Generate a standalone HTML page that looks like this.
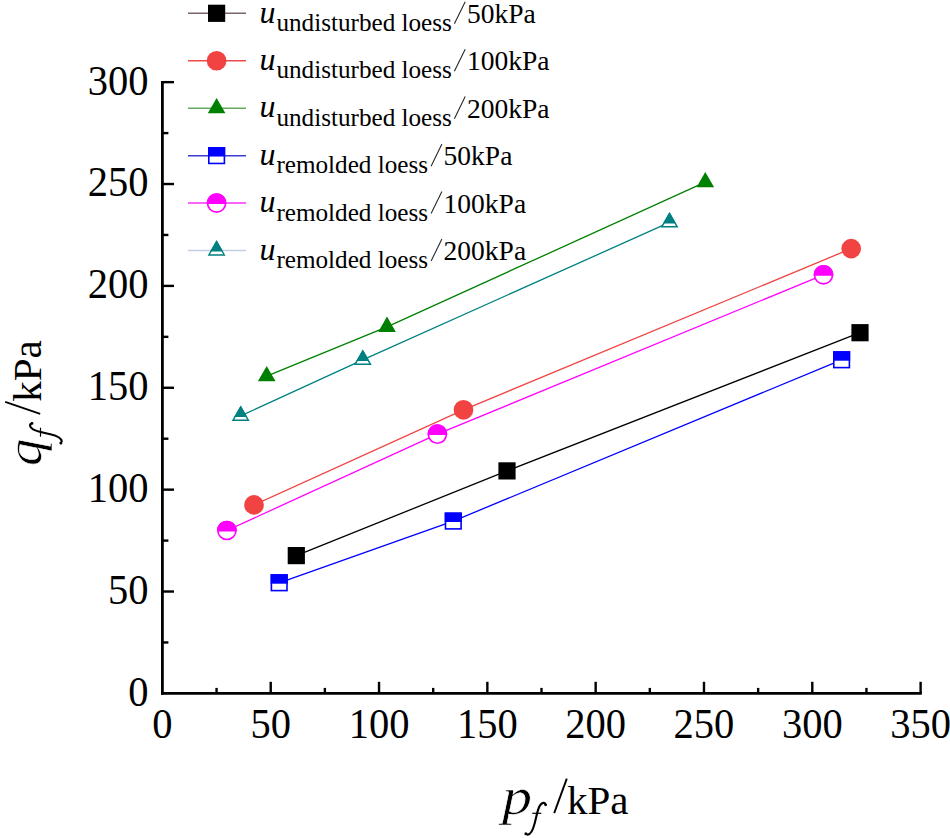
<!DOCTYPE html>
<html><head><meta charset="utf-8"><style>
html,body{margin:0;padding:0;background:#fff;}
body{width:950px;height:838px;overflow:hidden;}
svg{display:block;}
</style></head><body>
<svg width="950" height="838" viewBox="0 0 950 838">
<rect width="950" height="838" fill="#fff"/>
<g stroke="#000" fill="none">
<line x1="162.40" y1="80.95" x2="162.40" y2="694.80" stroke-width="2.8"/>
<line x1="161.00" y1="693.40" x2="921.81" y2="693.40" stroke-width="2.9"/>
<line x1="162.40" y1="642.46" x2="168.40" y2="642.46" stroke-width="2.4"/>
<line x1="162.40" y1="591.52" x2="174.00" y2="591.52" stroke-width="2.4"/>
<line x1="162.40" y1="540.59" x2="168.40" y2="540.59" stroke-width="2.4"/>
<line x1="162.40" y1="489.65" x2="174.00" y2="489.65" stroke-width="2.4"/>
<line x1="162.40" y1="438.71" x2="168.40" y2="438.71" stroke-width="2.4"/>
<line x1="162.40" y1="387.77" x2="174.00" y2="387.77" stroke-width="2.4"/>
<line x1="162.40" y1="336.84" x2="168.40" y2="336.84" stroke-width="2.4"/>
<line x1="162.40" y1="285.90" x2="174.00" y2="285.90" stroke-width="2.4"/>
<line x1="162.40" y1="234.96" x2="168.40" y2="234.96" stroke-width="2.4"/>
<line x1="162.40" y1="184.02" x2="174.00" y2="184.02" stroke-width="2.4"/>
<line x1="162.40" y1="133.09" x2="168.40" y2="133.09" stroke-width="2.4"/>
<line x1="162.40" y1="82.15" x2="174.00" y2="82.15" stroke-width="2.4"/>
<line x1="216.56" y1="693.40" x2="216.56" y2="687.90" stroke-width="2.4"/>
<line x1="270.72" y1="693.40" x2="270.72" y2="681.80" stroke-width="2.4"/>
<line x1="324.87" y1="693.40" x2="324.87" y2="687.90" stroke-width="2.4"/>
<line x1="379.03" y1="693.40" x2="379.03" y2="681.80" stroke-width="2.4"/>
<line x1="433.19" y1="693.40" x2="433.19" y2="687.90" stroke-width="2.4"/>
<line x1="487.35" y1="693.40" x2="487.35" y2="681.80" stroke-width="2.4"/>
<line x1="541.50" y1="693.40" x2="541.50" y2="687.90" stroke-width="2.4"/>
<line x1="595.66" y1="693.40" x2="595.66" y2="681.80" stroke-width="2.4"/>
<line x1="649.82" y1="693.40" x2="649.82" y2="687.90" stroke-width="2.4"/>
<line x1="703.98" y1="693.40" x2="703.98" y2="681.80" stroke-width="2.4"/>
<line x1="758.13" y1="693.40" x2="758.13" y2="687.90" stroke-width="2.4"/>
<line x1="812.29" y1="693.40" x2="812.29" y2="681.80" stroke-width="2.4"/>
<line x1="866.45" y1="693.40" x2="866.45" y2="687.90" stroke-width="2.4"/>
<line x1="920.61" y1="693.40" x2="920.61" y2="681.80" stroke-width="2.4"/>
</g>
<g font-family="Liberation Serif" font-size="41.8" fill="#000">
<text transform="translate(148.6,705.80) scale(0.97,1)" text-anchor="end">0</text>
<text transform="translate(148.6,603.92) scale(0.97,1)" text-anchor="end">50</text>
<text transform="translate(148.6,502.05) scale(0.97,1)" text-anchor="end">100</text>
<text transform="translate(148.6,400.17) scale(0.97,1)" text-anchor="end">150</text>
<text transform="translate(148.6,298.30) scale(0.97,1)" text-anchor="end">200</text>
<text transform="translate(148.6,196.42) scale(0.97,1)" text-anchor="end">250</text>
<text transform="translate(148.6,94.55) scale(0.97,1)" text-anchor="end">300</text>
<text transform="translate(162.40,738.3) scale(0.97,1)" text-anchor="middle">0</text>
<text transform="translate(270.72,738.3) scale(0.97,1)" text-anchor="middle">50</text>
<text transform="translate(379.03,738.3) scale(0.97,1)" text-anchor="middle">100</text>
<text transform="translate(487.35,738.3) scale(0.97,1)" text-anchor="middle">150</text>
<text transform="translate(595.66,738.3) scale(0.97,1)" text-anchor="middle">200</text>
<text transform="translate(703.98,738.3) scale(0.97,1)" text-anchor="middle">250</text>
<text transform="translate(812.29,738.3) scale(0.97,1)" text-anchor="middle">300</text>
<text transform="translate(920.61,738.3) scale(0.97,1)" text-anchor="middle">350</text>
</g>
<polyline points="296.30,555.60 507.00,470.90 860.00,332.70" fill="none" stroke="#000000" stroke-width="1.3"/>
<polyline points="254.00,504.90 463.50,409.80 851.20,248.60" fill="none" stroke="#f24343" stroke-width="1.3"/>
<polyline points="266.70,376.10 387.00,326.80 705.30,182.20" fill="none" stroke="#008000" stroke-width="1.3"/>
<polyline points="279.20,582.80 453.30,521.10 841.60,359.80" fill="none" stroke="#0000ff" stroke-width="1.3"/>
<polyline points="226.90,530.50 437.40,434.20 823.50,274.80" fill="none" stroke="#ff00ff" stroke-width="1.3"/>
<polyline points="240.70,415.90 362.80,359.90 669.50,222.40" fill="none" stroke="#008080" stroke-width="1.3"/>
<rect x="287.70" y="547.00" width="17.2" height="17.2" fill="#000000"/>
<rect x="498.40" y="462.30" width="17.2" height="17.2" fill="#000000"/>
<rect x="851.40" y="324.10" width="17.2" height="17.2" fill="#000000"/>
<circle cx="254.00" cy="504.90" r="9.85" fill="#f24343"/>
<circle cx="463.50" cy="409.80" r="9.85" fill="#f24343"/>
<circle cx="851.20" cy="248.60" r="9.85" fill="#f24343"/>
<path d="M266.70,365.90 L275.53,381.20 L257.87,381.20 Z" fill="#008000"/>
<path d="M387.00,316.60 L395.83,331.90 L378.17,331.90 Z" fill="#008000"/>
<path d="M705.30,172.00 L714.13,187.30 L696.47,187.30 Z" fill="#008000"/>
<rect x="271.40" y="575.00" width="15.60" height="15.60" fill="#fff" stroke="#0000ff" stroke-width="1.6"/>
<rect x="270.60" y="574.20" width="17.2" height="9.50" fill="#0000ff"/>
<rect x="445.50" y="513.30" width="15.60" height="15.60" fill="#fff" stroke="#0000ff" stroke-width="1.6"/>
<rect x="444.70" y="512.50" width="17.2" height="9.50" fill="#0000ff"/>
<rect x="833.80" y="352.00" width="15.60" height="15.60" fill="#fff" stroke="#0000ff" stroke-width="1.6"/>
<rect x="833.00" y="351.20" width="17.2" height="9.50" fill="#0000ff"/>
<circle cx="226.90" cy="530.50" r="9.05" fill="#fff" stroke="#ff00ff" stroke-width="1.6"/>
<path d="M217.09,531.40 A9.85,9.85 0 1 1 236.71,531.40 Z" fill="#ff00ff"/>
<circle cx="437.40" cy="434.20" r="9.05" fill="#fff" stroke="#ff00ff" stroke-width="1.6"/>
<path d="M427.59,435.10 A9.85,9.85 0 1 1 447.21,435.10 Z" fill="#ff00ff"/>
<circle cx="823.50" cy="274.80" r="9.05" fill="#fff" stroke="#ff00ff" stroke-width="1.6"/>
<path d="M813.69,275.70 A9.85,9.85 0 1 1 833.31,275.70 Z" fill="#ff00ff"/>
<path d="M240.70,406.90 L248.43,420.30 L232.97,420.30 Z" fill="#fff" stroke="#008080" stroke-width="1.4" stroke-linejoin="miter"/>
<path d="M240.70,405.70 L247.17,416.90 L234.23,416.90 Z" fill="#008080"/>
<path d="M362.80,350.90 L370.53,364.30 L355.07,364.30 Z" fill="#fff" stroke="#008080" stroke-width="1.4" stroke-linejoin="miter"/>
<path d="M362.80,349.70 L369.27,360.90 L356.33,360.90 Z" fill="#008080"/>
<path d="M669.50,213.40 L677.23,226.80 L661.77,226.80 Z" fill="#fff" stroke="#008080" stroke-width="1.4" stroke-linejoin="miter"/>
<path d="M669.50,212.20 L675.97,223.40 L663.03,223.40 Z" fill="#008080"/>
<line x1="188" y1="13.30" x2="246" y2="13.30" stroke="#786470" stroke-width="1.5"/>
<rect x="208.00" y="4.70" width="17.2" height="17.2" fill="#000000"/>
<text x="259.5" y="22.50" font-family="Liberation Serif" font-style="italic" font-size="32" fill="#000">u</text>
<text transform="translate(276.4,31.00) scale(0.965,1)" font-family="Liberation Serif" font-size="26.1" fill="#000">undisturbed loess</text>
<line x1="454.40" y1="23.80" x2="465.20" y2="1.70" stroke="#222" stroke-width="1.05"/>
<text x="466.90" y="22.80" font-family="Liberation Serif" font-size="27.5" fill="#000">50kPa</text>
<line x1="188" y1="60.75" x2="246" y2="60.75" stroke="#ee4a4a" stroke-width="1.5"/>
<circle cx="216.60" cy="60.75" r="9.85" fill="#f24343"/>
<text x="259.5" y="69.95" font-family="Liberation Serif" font-style="italic" font-size="32" fill="#000">u</text>
<text transform="translate(276.4,78.45) scale(0.965,1)" font-family="Liberation Serif" font-size="26.1" fill="#000">undisturbed loess</text>
<line x1="454.40" y1="71.25" x2="465.20" y2="49.15" stroke="#222" stroke-width="1.05"/>
<text x="466.90" y="70.25" font-family="Liberation Serif" font-size="27.5" fill="#000">100kPa</text>
<line x1="188" y1="108.20" x2="246" y2="108.20" stroke="#66aa5e" stroke-width="1.5"/>
<path d="M216.60,98.00 L225.43,113.30 L207.77,113.30 Z" fill="#008000"/>
<text x="259.5" y="117.40" font-family="Liberation Serif" font-style="italic" font-size="32" fill="#000">u</text>
<text transform="translate(276.4,125.90) scale(0.965,1)" font-family="Liberation Serif" font-size="26.1" fill="#000">undisturbed loess</text>
<line x1="454.40" y1="118.70" x2="465.20" y2="96.60" stroke="#222" stroke-width="1.05"/>
<text x="466.90" y="117.70" font-family="Liberation Serif" font-size="27.5" fill="#000">200kPa</text>
<line x1="188" y1="155.65" x2="246" y2="155.65" stroke="#3c3cd4" stroke-width="1.5"/>
<rect x="208.80" y="147.85" width="15.60" height="15.60" fill="#fff" stroke="#0000ff" stroke-width="1.6"/>
<rect x="208.00" y="147.05" width="17.2" height="9.50" fill="#0000ff"/>
<text x="259.5" y="164.85" font-family="Liberation Serif" font-style="italic" font-size="32" fill="#000">u</text>
<text transform="translate(276.4,173.35) scale(0.965,1)" font-family="Liberation Serif" font-size="26.1" fill="#000">remolded loess</text>
<line x1="431.10" y1="166.15" x2="441.90" y2="144.05" stroke="#222" stroke-width="1.05"/>
<text x="443.60" y="165.15" font-family="Liberation Serif" font-size="27.5" fill="#000">50kPa</text>
<line x1="188" y1="203.10" x2="246" y2="203.10" stroke="#f830f8" stroke-width="1.5"/>
<circle cx="216.60" cy="203.10" r="9.05" fill="#fff" stroke="#ff00ff" stroke-width="1.6"/>
<path d="M206.79,204.00 A9.85,9.85 0 1 1 226.41,204.00 Z" fill="#ff00ff"/>
<text x="259.5" y="212.30" font-family="Liberation Serif" font-style="italic" font-size="32" fill="#000">u</text>
<text transform="translate(276.4,220.80) scale(0.965,1)" font-family="Liberation Serif" font-size="26.1" fill="#000">remolded loess</text>
<line x1="431.10" y1="213.60" x2="441.90" y2="191.50" stroke="#222" stroke-width="1.05"/>
<text x="443.60" y="212.60" font-family="Liberation Serif" font-size="27.5" fill="#000">100kPa</text>
<line x1="188" y1="250.55" x2="246" y2="250.55" stroke="#c4cee2" stroke-width="1.5"/>
<path d="M216.60,241.55 L224.33,254.95 L208.87,254.95 Z" fill="#fff" stroke="#008080" stroke-width="1.4" stroke-linejoin="miter"/>
<path d="M216.60,240.35 L223.07,251.55 L210.13,251.55 Z" fill="#008080"/>
<text x="259.5" y="259.75" font-family="Liberation Serif" font-style="italic" font-size="32" fill="#000">u</text>
<text transform="translate(276.4,268.25) scale(0.965,1)" font-family="Liberation Serif" font-size="26.1" fill="#000">remolded loess</text>
<line x1="431.10" y1="261.05" x2="441.90" y2="238.95" stroke="#222" stroke-width="1.05"/>
<text x="443.60" y="260.05" font-family="Liberation Serif" font-size="27.5" fill="#000">200kPa</text>
<g font-family="Liberation Serif" fill="#000">
<text transform="translate(501.9,814.3) scale(1.15,1)" font-style="italic" font-size="52.4" stroke="#fff" stroke-width="0.6">p</text>
<g transform="translate(524.10,827.70)" fill="none" stroke="#000" stroke-linecap="round"><path d="M21.5,-23.2 C20.8,-25.6 17.8,-25.6 15.6,-21.8 C13.4,-18 12.3,-11 10.6,-4.5 C9.2,1 7,6.6 3.6,6.9" stroke-width="2.1"/><line x1="8.2" y1="-14.4" x2="17.2" y2="-14.4" stroke-width="1.2" stroke-linecap="butt"/><circle cx="21.5" cy="-22.9" r="1.4" fill="#000" stroke="none"/><circle cx="1.8" cy="6.0" r="1.5" fill="#000" stroke="none"/></g>
<line x1="554.2" y1="813.2" x2="566.8" y2="778.6" stroke="#000" stroke-width="1.9"/>
<text x="566.9" y="813.6" font-size="41">kPa</text>
</g>
<g transform="translate(40.8,463.9) rotate(-90)" font-family="Liberation Serif" fill="#000">
<text transform="translate(-2.2,0.4) scale(1.07,1)" font-style="italic" font-size="51" stroke="#fff" stroke-width="0.6">q</text>
<g transform="translate(19.00,14.10)" fill="none" stroke="#000" stroke-linecap="round"><path d="M21.5,-23.2 C20.8,-25.6 17.8,-25.6 15.6,-21.8 C13.4,-18 12.3,-11 10.6,-4.5 C9.2,1 7,6.6 3.6,6.9" stroke-width="2.1"/><line x1="8.2" y1="-14.4" x2="17.2" y2="-14.4" stroke-width="1.2" stroke-linecap="butt"/><circle cx="21.5" cy="-22.9" r="1.4" fill="#000" stroke="none"/><circle cx="1.8" cy="6.0" r="1.5" fill="#000" stroke="none"/></g>
<line x1="50.0" y1="-0.6" x2="62.0" y2="-35.6" stroke="#000" stroke-width="1.9"/>
<text x="62.2" y="0" font-size="41">kPa</text>
</g>
</svg>
</body></html>
